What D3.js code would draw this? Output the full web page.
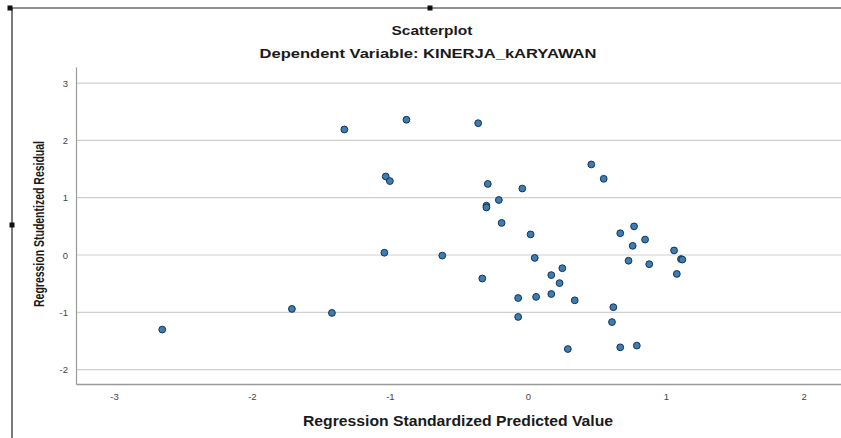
<!DOCTYPE html>
<html>
<head>
<meta charset="utf-8">
<script src="https://cdn.jsdelivr.net/npm/d3@7"></script>
<style>
  body { margin: 0; background: #fff; }
  svg { display: block; font-family: "Liberation Sans", Arial, sans-serif; }
</style>
</head>
<body>
<svg width="841" height="438"></svg>
<script>
// standardized predicted value (x) and studentized residual (y)
var predicted = [-2.65, -1.71, -1.42, -1.04, -0.62, -1.33, -0.88, -0.36, -1.03, -1.00,
  -0.29, -0.04, -0.21, -0.30, -0.30, -0.19, 0.02, 0.46, 0.55, 0.05,
  -0.33, 0.25, 0.17, 0.23, -0.07, 0.06, 0.17, 0.34, -0.07, 0.62,
  0.61, 0.29, 0.67, 0.79, 0.67, 0.77, 0.85, 0.76, 0.73, 0.88,
  1.06, 1.11, 1.12, 1.08]
var residual = [-1.30, -0.94, -1.01, 0.04, -0.01, 2.19, 2.36, 2.30, 1.37, 1.29,
  1.24, 1.16, 0.96, 0.86, 0.83, 0.56, 0.36, 1.58, 1.33, -0.05,
  -0.41, -0.23, -0.35, -0.49, -0.75, -0.73, -0.68, -0.79, -1.08, -0.91,
  -1.17, -1.64, -1.61, -1.58, 0.38, 0.50, 0.27, 0.16, -0.10, -0.16,
  0.08, -0.07, -0.08, -0.33]
var xTicks = [-3, -2, -1, 0, 1, 2]
var yTicks = [-2, -1, 0, 1, 2, 3]

var points = predicted.map((d, i) => ({x: d, y: residual[i]}))

var svg = d3.select("svg")

// frame of the output viewer
svg.append("line").attr("x1", 10).attr("x2", 841).attr("y1", 8).attr("y2", 8)
  .attr("stroke", "#222").attr("stroke-width", 1.2)
svg.append("line").attr("x1", 12).attr("x2", 12).attr("y1", 8).attr("y2", 438)
  .attr("stroke", "#222").attr("stroke-width", 1.2)
;[[10, 8], [430, 8], [12, 225]].forEach(p => {
  svg.append("rect").attr("x", p[0] - 2.5).attr("y", p[1] - 2.5)
    .attr("width", 5).attr("height", 5).attr("fill", "#111")
})

var xScale = d3.scaleLinear().domain([-3.275, 2.27]).range([76, 841])
var yScale = d3.scaleLinear().domain([-2.25, 3.28]).range([384, 67])

// gridlines
svg.append("g").selectAll("line")
  .data(yTicks)
  .enter()
  .append("line")
  .attr("x1", 76).attr("x2", 841)
  .attr("y1", d => yScale(d)).attr("y2", d => yScale(d))
  .attr("stroke", "#cfcfcf").attr("stroke-width", 1.2)

var xAxis = d3.axisBottom(xScale).tickValues(xTicks).tickSize(0).tickPadding(9)
  .tickFormat(d => String(d))
svg.append("g").attr("id", "xAxis")
  .attr("transform", "translate(0,384)")
  .call(xAxis)
  .call(g => g.select(".domain").attr("stroke", "#9a9a9a").attr("stroke-width", 1.5))
  .selectAll("text").attr("font-size", 9.5).attr("fill", "#444")
  .attr("font-family", "Liberation Sans, Arial, sans-serif")

var yAxis = d3.axisLeft(yScale).tickValues(yTicks).tickSize(0).tickPadding(8)
  .tickFormat(d => String(d))
svg.append("g").attr("id", "yAxis")
  .attr("transform", "translate(76,0)")
  .call(yAxis)
  .call(g => g.select(".domain").attr("stroke", "#9a9a9a").attr("stroke-width", 1.2))
  .selectAll("text").attr("font-size", 9.5).attr("fill", "#444")
  .attr("font-family", "Liberation Sans, Arial, sans-serif")

// points
svg.append("g").selectAll("circle")
  .data(points)
  .enter()
  .append("circle")
  .attr("cx", d => xScale(d.x))
  .attr("cy", d => yScale(d.y))
  .attr("r", 3.4)
  .attr("fill", "#3b7db5")
  .attr("stroke", "#17324f")
  .attr("stroke-width", 1)

// titles (fitted to the widths measured on the screenshot)
function title(x, y, size, len, txt) {
  return svg.append("text").attr("x", x).attr("y", y)
    .attr("text-anchor", "middle").attr("font-size", size).attr("font-weight", "bold")
    .attr("fill", "#1a1a1a")
    .attr("textLength", len).attr("lengthAdjust", "spacingAndGlyphs")
    .text(txt)
}
title(432, 34.5, 13, 81, "Scatterplot")
title(428, 58, 13, 337, "Dependent Variable: KINERJA_kARYAWAN")
title(458, 426, 14.5, 310, "Regression Standardized Predicted Value")
title(0, 0, 14, 166, "Regression Studentized Residual")
  .attr("transform", "translate(43.5,224) rotate(-90)")
</script>
</body>
</html>
